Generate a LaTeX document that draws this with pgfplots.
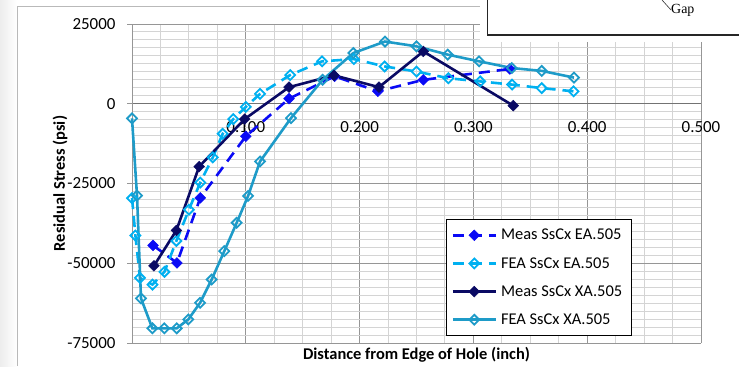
\documentclass[border=0pt]{standalone}
\usepackage{pgfplots}
\pgfplotsset{compat=1.18}
\usepackage{fontspec}
\setmainfont{Carlito}
\newfontfamily\timesf{Liberation Serif}
\definecolor{measEA}{RGB}{10,10,245}
\definecolor{feaEA}{RGB}{0,176,240}
\definecolor{measXA}{RGB}{10,10,100}
\definecolor{feaXA}{RGB}{30,155,200}
\definecolor{majgrid}{RGB}{150,150,150}
\definecolor{mingrid}{RGB}{212,212,212}
\begin{document}
\begin{tikzpicture}[x=1bp,y=1bp]
\useasboundingbox (0,0) rectangle (739,366);
\clip (0,0) rectangle (739,366);
\fill[left color=gray!14, right color=white] (0,0) rectangle (17,366);
\draw[gray!55, line width=0.8bp] (17.5,0) -- (17.5,359.3) -- (481,359.3);
\begin{axis}[
  at={(132bp,23bp)}, anchor=south west,
  scale only axis, width=569bp, height=319bp,
  xmin=0, xmax=0.5, ymin=-75000, ymax=25000,
  scaled x ticks=false, scaled y ticks=false,
  axis x line=middle, axis y line=left,
  axis line style={-, draw=majgrid, line width=1bp},
  x axis line style={draw=black!55},
  xtick={0,0.1,0.2,0.3,0.4,0.5},
  xticklabels={0.000,0.100,0.200,0.300,0.400,0.500},
  ytick={-75000,-50000,-25000,0,25000},
  yticklabels={-75000,-50000,-25000,0,25000},
  minor x tick num=3, minor y tick num=9,
  grid=both,
  major grid style={draw=majgrid, line width=1bp},
  minor grid style={draw=mingrid, line width=1bp},
  tick align=outside, major tick length=5bp, minor tick length=0bp,
  tick style={draw=majgrid, line width=1bp},
  every tick label/.append style={font=\fontsize{17}{20}\selectfont, text=black},
  xticklabel style={yshift=-9bp},
  yticklabel style={xshift=-8bp},
  xlabel={Distance from Edge of Hole (inch)},
  ylabel={Residual Stress (psi)},
  xlabel style={at={(axis description cs:0.5,0)}, anchor=center, yshift=-12bp, font=\bfseries\fontsize{16.5}{19}\selectfont},
  ylabel style={at={(axis description cs:-0.1265,0.5)}, anchor=center, font=\bfseries\fontsize{16.5}{19}\selectfont},
  legend image code/.code={\draw[mark repeat=2,mark phase=2,#1] plot coordinates {(0bp,0bp) (21.5bp,0bp) (43bp,0bp)};},
  legend style={at={(axis description cs:0.5518,0.021)}, anchor=south west, draw=black, line width=1bp, fill=white,
    font=\fontsize{16.5}{20}\selectfont, row sep=12bp, inner xsep=5bp, inner ysep=8bp, cells={anchor=west},
    nodes={inner xsep=4bp}},
  legend cell align=left,
  clip=false,
]
\addplot[color=measEA, line width=2.6bp, dash pattern=on 11bp off 7bp, mark=square*, mark size=3.8bp,
  mark options={solid, rotate=45, fill=measEA, line width=0.5bp}] coordinates {
(0.0185,-44400) (0.0395,-49900) (0.060,-29500) (0.100,-10200) (0.138,1600) (0.178,8600) (0.216,3900) (0.256,7500) (0.332,10900)};
\addlegendentry{Meas SsCx EA.505}
\addplot[color=feaEA, line width=2.6bp, dash pattern=on 11bp off 7bp, mark=square, mark size=3.5bp,
  mark options={solid, rotate=45, fill=white, line width=1.8bp}] coordinates {
(0.000,-29600) (0.003,-41300) (0.007,-54600) (0.018,-56700) (0.0285,-52700) (0.039,-43000) (0.050,-33200)
(0.060,-24700) (0.0710,-16800) (0.0797,-9400) (0.089,-4800) (0.100,-1000) (0.1125,3100) (0.139,9000)
(0.167,13300) (0.195,14000) (0.222,11700) (0.250,10100) (0.278,8000) (0.306,7000) (0.334,6000) (0.360,4900) (0.388,3900)};
\addlegendentry{FEA SsCx  EA.505}
\addplot[color=measXA, line width=2.6bp, mark=square*, mark size=3.8bp,
  mark options={solid, rotate=45, fill=measXA, line width=0.5bp}] coordinates {
(0.0193,-50800) (0.039,-39700) (0.059,-19700) (0.099,-4800) (0.138,5200) (0.1775,8900) (0.217,5200) (0.256,16400) (0.335,-600)};
\addlegendentry{Meas SsCx XA.505}
\addplot[color=feaXA, line width=2.6bp, mark=square, mark size=3.5bp,
  mark options={solid, rotate=45, fill=white, line width=1.8bp}] coordinates {
(0.000,-4600) (0.0044,-28800) (0.0079,-61000) (0.0179,-70400) (0.0284,-70400) (0.0393,-70400) (0.0495,-67600)
(0.0598,-62400) (0.070,-55100) (0.0811,-46200) (0.092,-37300) (0.102,-28900) (0.1125,-18100) (0.1397,-4500)
(0.1675,7500) (0.1945,15900) (0.2223,19500) (0.250,18000) (0.2774,15400) (0.305,13300) (0.3337,11200) (0.360,10300) (0.3884,8200)};
\addlegendentry{FEA SsCx  XA.505}
\end{axis}
\fill[white] (480,324.5) rectangle (745,370);
\draw[black!85, line width=1.3bp] (487.3,372) -- (487.3,331) -- (745,331);
\draw[black!80, line width=0.6bp] (662,366) -- (671,356);
\node[font=\timesf\fontsize{14}{17}\selectfont, anchor=base west, inner sep=0pt] at (671,353) {Gap};
\end{tikzpicture}
\end{document}
